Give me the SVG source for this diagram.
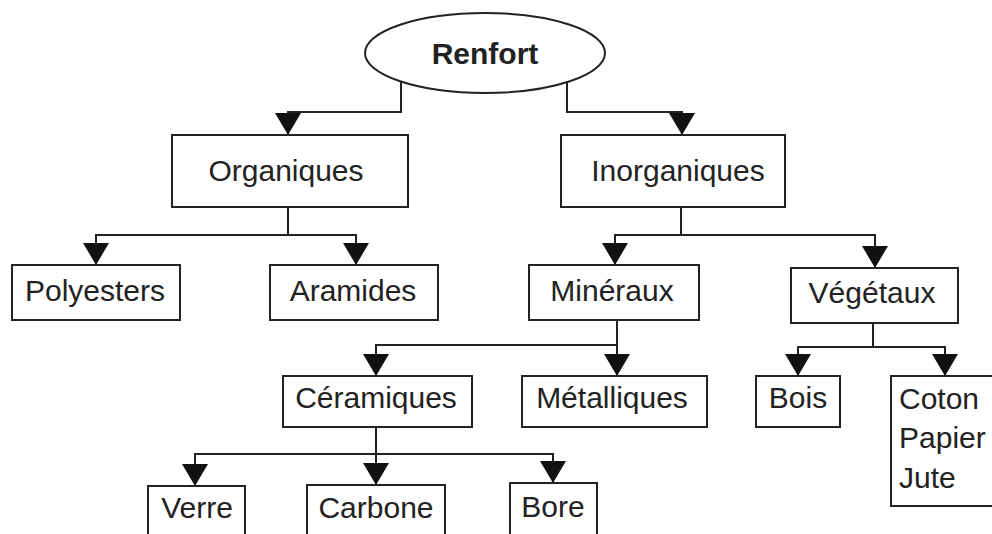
<svg xmlns="http://www.w3.org/2000/svg" width="992" height="534" viewBox="0 0 992 534">
<style>
.b{fill:#fff;stroke:#222;stroke-width:2}
.t{font-family:"Liberation Sans",Arial,sans-serif;font-size:30px;fill:#222;text-anchor:middle}
.c{fill:none;stroke:#222;stroke-width:2;marker-end:url(#ah)}
.n{fill:none;stroke:#222;stroke-width:2}
</style>
<defs>
<marker id="ah" markerUnits="userSpaceOnUse" markerWidth="22" markerHeight="26" refX="22" refY="13" orient="auto" viewBox="0 0 22 26">
<polygon points="0,0 22,13 0,26" fill="#111"/>
</marker>
</defs>
<rect width="992" height="534" fill="#fff"/>
<g id="connectors">
<path class="c" d="M401,81 V112 H288 V135"/>
<path class="c" d="M567,81 V112 H682 V135"/>
<path class="n" d="M288,207 V235"/>
<path class="c" d="M288,235 H96 V265"/>
<path class="c" d="M288,235 H356 V265"/>
<path class="n" d="M681,207 V235"/>
<path class="c" d="M681,235 H615 V265"/>
<path class="c" d="M681,235 H875 V268"/>
<path class="n" d="M617,320 V345"/>
<path class="c" d="M617,345 H376 V376"/>
<path class="c" d="M617,345 V376"/>
<path class="n" d="M873,323 V347"/>
<path class="c" d="M873,347 H798 V376"/>
<path class="c" d="M873,347 H945 V376"/>
<path class="c" d="M376,427 V485"/>
<path class="c" d="M376,454 H195 V486"/>
<path class="c" d="M376,454 H553 V483"/>
</g>
<g id="renfort">
<ellipse class="b" cx="485" cy="53" rx="120" ry="40"/>
<text class="t" x="485" y="64" style="font-weight:bold">Renfort</text>
</g>
<g id="organiques">
<rect class="b" x="172" y="135" width="236" height="72"/>
<text class="t" x="286" y="181">Organiques</text>
</g>
<g id="inorganiques">
<rect class="b" x="561" y="135" width="224" height="72"/>
<text class="t" x="678" y="181">Inorganiques</text>
</g>
<g id="polyesters">
<rect class="b" x="12" y="265" width="168" height="55"/>
<text class="t" x="95" y="301">Polyesters</text>
</g>
<g id="aramides">
<rect class="b" x="270" y="265" width="168" height="55"/>
<text class="t" x="353" y="301">Aramides</text>
</g>
<g id="mineraux">
<rect class="b" x="529" y="265" width="170" height="55"/>
<text class="t" x="612" y="301">Minéraux</text>
</g>
<g id="vegetaux">
<rect class="b" x="791" y="268" width="167" height="55"/>
<text class="t" x="872" y="303">Végétaux</text>
</g>
<g id="ceramiques">
<rect class="b" x="283" y="376" width="189" height="51"/>
<text class="t" x="376" y="408">Céramiques</text>
</g>
<g id="metalliques">
<rect class="b" x="522" y="376" width="185" height="51"/>
<text class="t" x="612" y="408">Métalliques</text>
</g>
<g id="bois">
<rect class="b" x="756" y="376" width="84" height="51"/>
<text class="t" x="798" y="408">Bois</text>
</g>
<g id="coton">
<rect class="b" x="891" y="376" width="110" height="130"/>
<text class="t" x="899" y="409" style="text-anchor:start">Coton</text>
<text class="t" x="899" y="448" style="text-anchor:start">Papier</text>
<text class="t" x="899" y="488" style="text-anchor:start">Jute</text>
</g>
<g id="verre">
<rect class="b" x="148" y="486" width="97" height="60"/>
<text class="t" x="197" y="518">Verre</text>
</g>
<g id="carbone">
<rect class="b" x="307" y="485" width="138" height="60"/>
<text class="t" x="376" y="518">Carbone</text>
</g>
<g id="bore">
<rect class="b" x="510" y="483" width="87" height="60"/>
<text class="t" x="553" y="517">Bore</text>
</g>
</svg>
